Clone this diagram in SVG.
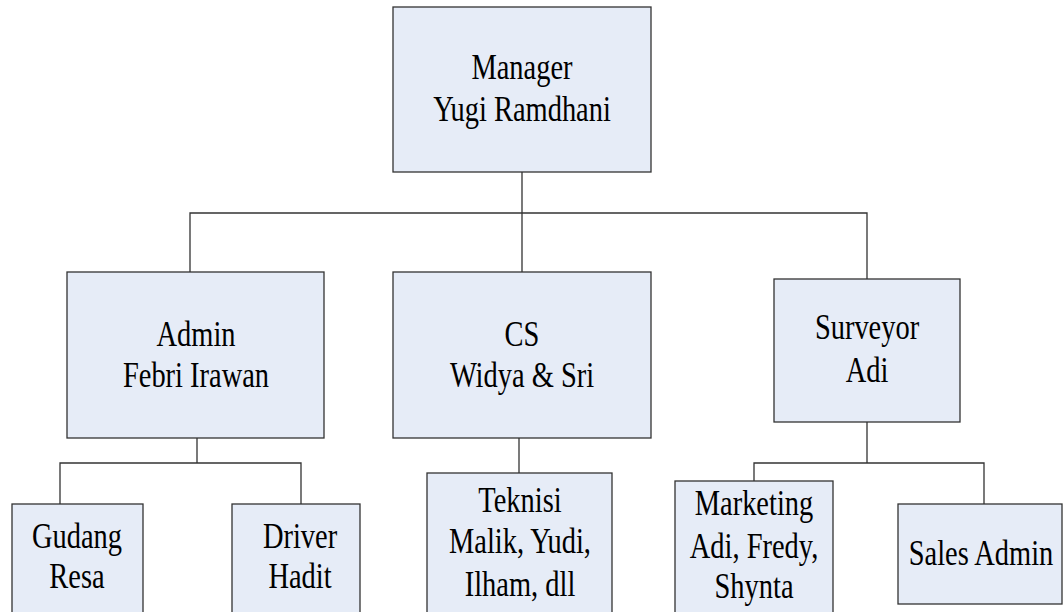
<svg xmlns="http://www.w3.org/2000/svg" width="1064" height="612" viewBox="0 0 1064 612">
<style>
.box{fill:#E6ECF7;stroke:#333;stroke-width:1.3}
.t{font-family:"Liberation Serif","Times New Roman",serif;font-size:36px;fill:#000;text-anchor:middle}
.c{fill:none;stroke:#333;stroke-width:1.3}
</style>
<rect width="1064" height="612" fill="#fff"/>
<g id="connectors">
<path class="c" d="M522 172V272M190 272V213H867V279"/>
<path class="c" d="M197 438V463M60 504V463H301V504"/>
<path class="c" d="M519 438V473"/>
<path class="c" d="M867 422V463M754 481V463H984V504"/>
</g>
<g id="manager"><rect class="box" x="393" y="7" width="258" height="165"/><text class="t" transform="matrix(0.79 0 0 1 522 79)">Manager</text><text class="t" transform="matrix(0.79 0 0 1 522 121)">Yugi Ramdhani</text></g>
<g id="admin"><rect class="box" x="67" y="272" width="257" height="166"/><text class="t" transform="matrix(0.79 0 0 1 196 346)">Admin</text><text class="t" transform="matrix(0.79 0 0 1 196 387)">Febri Irawan</text></g>
<g id="cs"><rect class="box" x="393" y="272" width="258" height="166"/><text class="t" transform="matrix(0.79 0 0 1 522 346)">CS</text><text class="t" transform="matrix(0.79 0 0 1 522 387)">Widya &amp; Sri</text></g>
<g id="surveyor"><rect class="box" x="774" y="279" width="186" height="143"/><text class="t" transform="matrix(0.79 0 0 1 867 339)">Surveyor</text><text class="t" transform="matrix(0.79 0 0 1 867 382)">Adi</text></g>
<g id="gudang"><rect class="box" x="12" y="504" width="131" height="120"/><text class="t" transform="matrix(0.79 0 0 1 77 548)">Gudang</text><text class="t" transform="matrix(0.79 0 0 1 77 588)">Resa</text></g>
<g id="driver"><rect class="box" x="232" y="504" width="128" height="120"/><text class="t" transform="matrix(0.79 0 0 1 300 548)">Driver</text><text class="t" transform="matrix(0.79 0 0 1 300 588)">Hadit</text></g>
<g id="teknisi"><rect class="box" x="427" y="473" width="185" height="150"/><text class="t" transform="matrix(0.79 0 0 1 520 512)">Teknisi</text><text class="t" transform="matrix(0.79 0 0 1 520 553)">Malik, Yudi,</text><text class="t" transform="matrix(0.79 0 0 1 520 596)">Ilham, dll</text></g>
<g id="marketing"><rect class="box" x="675" y="481" width="158" height="142"/><text class="t" transform="matrix(0.79 0 0 1 754 515)">Marketing</text><text class="t" transform="matrix(0.79 0 0 1 754 558)">Adi, Fredy,</text><text class="t" transform="matrix(0.79 0 0 1 754 598)">Shynta</text></g>
<g id="sales-admin"><rect class="box" x="898" y="504" width="164" height="100"/><text class="t" transform="matrix(0.79 0 0 1 981 565)">Sales Admin</text></g>
</svg>
